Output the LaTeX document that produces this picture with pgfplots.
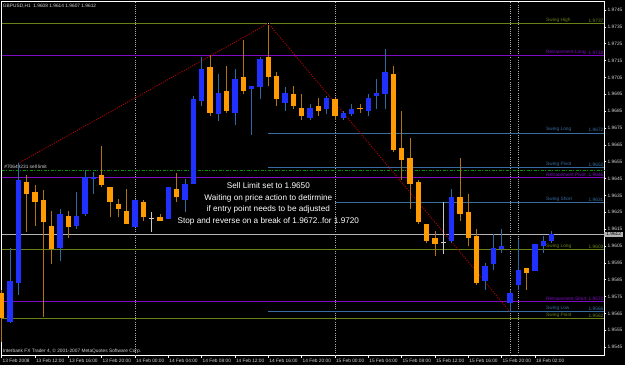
\documentclass[border=0pt]{standalone}
\usepackage{pgfplots}
\pgfplotsset{compat=1.18}
\usepackage{pgfplotstable}
\usepackage{fontspec}
\setmainfont{Liberation Sans}

\definecolor{bullbody}{RGB}{32,48,255}
\definecolor{bullwick}{RGB}{48,104,160}
\definecolor{bearbody}{RGB}{255,154,0}
\definecolor{bearwick}{RGB}{176,116,16}
\definecolor{dojigrey}{RGB}{200,200,200}
\definecolor{lvlolive}{RGB}{104,130,24}
\definecolor{lvlpurple}{RGB}{130,10,196}
\definecolor{lvlsteel}{RGB}{56,108,160}
\definecolor{lvlgreen}{RGB}{0,150,0}
\definecolor{bidgrey}{RGB}{180,180,180}
\definecolor{sepgrey}{RGB}{170,170,170}
\definecolor{zigred}{RGB}{190,0,0}
\definecolor{txtgrey}{RGB}{215,215,215}

\newcommand{\smallfont}{\fontsize{4.8}{5.2}\selectfont}

% h = hour index from 13 Feb 2008 08:00 (H1 bars)
\pgfplotstableread{
h  o      hi     lo     c
1  1.9560 1.9604 1.9559 1.9584
2  1.9583 1.9654 1.9576 1.9644
7  1.9604 1.9627 1.9596 1.9624
9  1.9617 1.9637 1.9615 1.9623
10 1.9624 1.9650 1.9623 1.9646
11 1.9645 1.9649 1.9636 1.9646
16 1.9616 1.9633 1.9616 1.9632
20 1.9621 1.9640 1.9621 1.9640
22 1.9632 1.9645 1.9625 1.9642
23 1.9642 1.9694 1.9642 1.9692
24 1.9691 1.9717 1.9688 1.9710
26 1.9683 1.9707 1.9679 1.9696
28 1.9684 1.9710 1.9677 1.9704
30 1.9698 1.9700 1.9671 1.9700
31 1.9699 1.9717 1.9692 1.9716
34 1.9690 1.9699 1.9685 1.9696
37 1.9681 1.9689 1.9680 1.9687
39 1.9686 1.9694 1.9683 1.9693
41 1.9681 1.9685 1.9680 1.9684
42 1.9683 1.9689 1.9682 1.9686
44 1.9685 1.9695 1.9682 1.9693
45 1.9694 1.9704 1.9686 1.9696
46 1.9695 1.9722 1.9686 1.9708
54 1.9608 1.9639 1.9607 1.9634
58 1.9584 1.9595 1.9579 1.9593
59 1.9594 1.9612 1.9591 1.9604
60 1.9603 1.9615 1.9601 1.9605
61 1.9571 1.9579 1.9566 1.9577
62 1.9582 1.9609 1.9579 1.9591
64 1.9590 1.9606 1.9590 1.9606
65 1.9605 1.9611 1.9601 1.9608
66 1.9608 1.9614 1.9607 1.9612
}\bull

\pgfplotstableread{
h  o      hi     lo     c
0  1.9577 1.9579 1.9548 1.9562
3  1.9643 1.9647 1.9613 1.9636
4  1.9637 1.9641 1.9617 1.9631
5  1.9632 1.9638 1.9563 1.9619
6  1.9617 1.9626 1.9594 1.9603
8  1.9623 1.9626 1.9610 1.9616
12 1.9647 1.9664 1.9640 1.9641
13 1.9640 1.9640 1.9622 1.9631
14 1.9630 1.9633 1.9622 1.9627
15 1.9626 1.9639 1.9618 1.9618
17 1.9631 1.9632 1.9620 1.9622
19 1.9622 1.9624 1.9620 1.9620
21 1.9639 1.9648 1.9631 1.9634
25 1.9711 1.9718 1.9682 1.9684
27 1.9697 1.9712 1.9684 1.9685
29 1.9705 1.9727 1.9695 1.9697
32 1.9717 1.9737 1.9700 1.9705
33 1.9706 1.9708 1.9688 1.9692
35 1.9695 1.9700 1.9686 1.9688
36 1.9687 1.9695 1.9680 1.9682
38 1.9688 1.9693 1.9682 1.9685
40 1.9692 1.9693 1.9680 1.9682
43 1.9687 1.9689 1.9684 1.9686
47 1.9707 1.9712 1.9661 1.9662
48 1.9663 1.9685 1.9644 1.9656
49 1.9657 1.9669 1.9627 1.9642
50 1.9643 1.9644 1.9618 1.9619
51 1.9618 1.9618 1.9607 1.9608
52 1.9610 1.9614 1.9599 1.9606
55 1.9634 1.9657 1.9620 1.9624
56 1.9625 1.9636 1.9605 1.9610
57 1.9611 1.9615 1.9582 1.9583
63 1.9592 1.9592 1.9579 1.9589
}\bear

\pgfplotstableread{
h  o      hi     lo     c
18 1.9621 1.9625 1.9613 1.9621
53 1.9607 1.9631 1.9600 1.9607
}\doji

\newcommand{\lvl}[6]{%
  \draw[#1, line width=0.65pt, #2] (axis cs:#3,#4) -- (axis cs:72.28,#4);
  \node[anchor=south west, inner sep=0pt, text=#1, font=\smallfont, yshift=0.8pt] at (axis cs:65.32,#4) {#5};
  \node[anchor=south west, inner sep=0pt, text=#1, font=\smallfont, yshift=0.8pt] at (axis cs:70.42,#4) {#6};
}

\begin{document}
\begin{tikzpicture}
\useasboundingbox (0,0) rectangle (625pt,365pt);
\fill[black] (0,0) rectangle (625pt,365pt);
\begin{axis}[
  at={(1.7pt,9.5pt)}, anchor=south west,
  width=602.3pt, height=354pt, scale only axis,
  xmin=0, xmax=72.28, ymin=1.9540, ymax=1.9750,
  clip=false,
  axis line style={draw=white, line width=0.6pt},
  tick align=outside, major tick length=2.5pt,
  tick style={draw=white, line width=0.5pt},
  xtick pos=bottom, ytick pos=right, yticklabel pos=right,
  xtick={0,4,8,12,16,20,24,28,32,36,40,44,48,52,56,60,64},
  xticklabels={13 Feb 2008,13 Feb 12:00,13 Feb 16:00,13 Feb 20:00,14 Feb 00:00,14 Feb 04:00,14 Feb 08:00,14 Feb 12:00,14 Feb 16:00,14 Feb 20:00,15 Feb 00:00,15 Feb 04:00,15 Feb 08:00,15 Feb 12:00,15 Feb 16:00,15 Feb 20:00,18 Feb 02:00},
  ytick={1.9545,1.9555,1.9565,1.9575,1.9585,1.9595,1.9605,1.9615,1.9625,1.9635,1.9645,1.9655,1.9665,1.9675,1.9685,1.9695,1.9705,1.9715,1.9725,1.9735,1.9745},
  scaled y ticks=false,
  /pgf/number format/assume math mode=true,
  yticklabel style={/pgf/number format/fixed, /pgf/number format/fixed zerofill, /pgf/number format/precision=4},
  ticklabel style={font=\smallfont, text=txtgrey, inner sep=0pt},
  xticklabel style={anchor=north west, xshift=0.8pt, yshift=-0.5pt},
  yticklabel style={anchor=west, xshift=1pt},
]

% period separators
\draw[sepgrey, line width=0.5pt, dash pattern=on 1pt off 1.2pt] (axis cs:16,1.9540) -- (axis cs:16,1.9750);
\draw[sepgrey, line width=0.5pt, dash pattern=on 1pt off 1.2pt] (axis cs:40,1.9540) -- (axis cs:40,1.9750);
\draw[sepgrey, line width=0.5pt, dash pattern=on 1pt off 1.2pt] (axis cs:61,1.9540) -- (axis cs:61,1.9750);
\draw[sepgrey, line width=0.5pt, dash pattern=on 1pt off 1.2pt] (axis cs:62,1.9540) -- (axis cs:62,1.9750);

% level lines
\lvl{lvlolive}{solid}{0}{1.9737}{Swing High}{1.9737}
\lvl{lvlpurple}{solid}{0}{1.9718}{Retracement Long}{1.9718}
\lvl{lvlsteel}{solid}{32}{1.9672}{Swing Long}{1.9672}
\lvl{lvlsteel}{solid}{32}{1.96515}{Swing Pivot}{1.9652}
\lvl{lvlpurple}{solid}{0}{1.96455}{Retracement Pivot}{1.9646}
\lvl{lvlsteel}{solid}{40}{1.9631}{Swing Short}{1.9631}
\lvl{lvlolive}{solid}{0}{1.9603}{Swing Long}{1.9603}
\lvl{lvlpurple}{solid}{0}{1.9572}{Retracement Short}{1.9572}
\lvl{lvlsteel}{solid}{32}{1.9566}{Swing Low}{1.9566}
\lvl{lvlolive}{solid}{0}{1.9562}{Swing Point}{1.9562}
\draw[lvlgreen, line width=0.7pt, dash pattern=on 3pt off 1.5pt on 1pt off 1.5pt] (axis cs:0,1.9650) -- (axis cs:72.28,1.9650);
\node[anchor=south west, inner sep=0pt, text=txtgrey, font=\smallfont, yshift=1.2pt] at (axis cs:0.3,1.9650) {\#70649231 sell limit};
\draw[bidgrey, line width=0.6pt] (axis cs:0,1.9612) -- (axis cs:72.28,1.9612);

% zigzag
\addplot[zigred, line width=0.9pt, dash pattern=on 1pt off 1.4pt, forget plot] coordinates {(2,1.9654) (32,1.9737) (61,1.9566)};

% wicks
\addplot[draw=none, forget plot, error bars/.cd, y dir=both, y explicit, error mark=none,
  error bar style={draw=bullwick, line width=1pt, solid}]
  table[x=h, y=lo, y error plus expr=\thisrow{hi}-\thisrow{lo}, y error minus expr=0] {\bull};
\addplot[draw=none, forget plot, error bars/.cd, y dir=both, y explicit, error mark=none,
  error bar style={draw=bearwick, line width=1pt, solid}]
  table[x=h, y=lo, y error plus expr=\thisrow{hi}-\thisrow{lo}, y error minus expr=0] {\bear};
\addplot[draw=none, forget plot, error bars/.cd, y dir=both, y explicit, error mark=none,
  error bar style={draw=dojigrey, line width=1pt, solid}]
  table[x=h, y=lo, y error plus expr=\thisrow{hi}-\thisrow{lo}, y error minus expr=0] {\doji};

% bodies
\addplot[draw=none, forget plot, error bars/.cd, y dir=both, y explicit, error mark=none,
  error bar style={draw=bullbody, line width=5.3pt, solid, line cap=butt}]
  table[x=h, y=o, y error plus expr=\thisrow{c}-\thisrow{o}, y error minus expr=0] {\bull};
\addplot[draw=none, forget plot, error bars/.cd, y dir=both, y explicit, error mark=none,
  error bar style={draw=bearbody, line width=5.3pt, solid, line cap=butt}]
  table[x=h, y=c, y error plus expr=\thisrow{o}-\thisrow{c}, y error minus expr=0] {\bear};
\addplot[only marks, mark=-, mark size=2.6pt, mark options={draw=dojigrey, line width=1pt}, forget plot]
  table[x=h, y=o] {\doji};

% peak marker
\addplot[only marks, mark=square*, mark size=0.9pt, mark options={fill=red!25!white, draw=none}, forget plot] coordinates {(32,1.9737)};

% annotation
\node[align=center, text=white, font=\fontsize{8.2}{11.8}\selectfont, inner sep=0pt] at (axis cs:32,1.96300)
  {Sell Limit set to 1.9650\\Waiting on price action to detirmine\\if entry point needs to be adjusted\\Stop and reverse on a break of 1.9672..for 1.9720};

% header and footer
\node[anchor=west, inner sep=0pt, text=txtgrey, font=\smallfont] at (rel axis cs:0.0018,0.9873) {GBPUSD,H1\ \ 1.9608 1.9614 1.9607 1.9612};
\node[anchor=west, inner sep=0pt, text=txtgrey, font=\smallfont] at (rel axis cs:0.0018,0.0107) {Interbank FX Trader 4, \textcopyright\ 2001-2007 MetaQuotes Software Corp.};

% current price box
\node[anchor=west, fill=bidgrey, text=black, font=\smallfont, inner sep=0.7pt, minimum width=19pt] at (axis cs:72.28,1.9612) {1.9612};
\end{axis}
\end{tikzpicture}
\end{document}
